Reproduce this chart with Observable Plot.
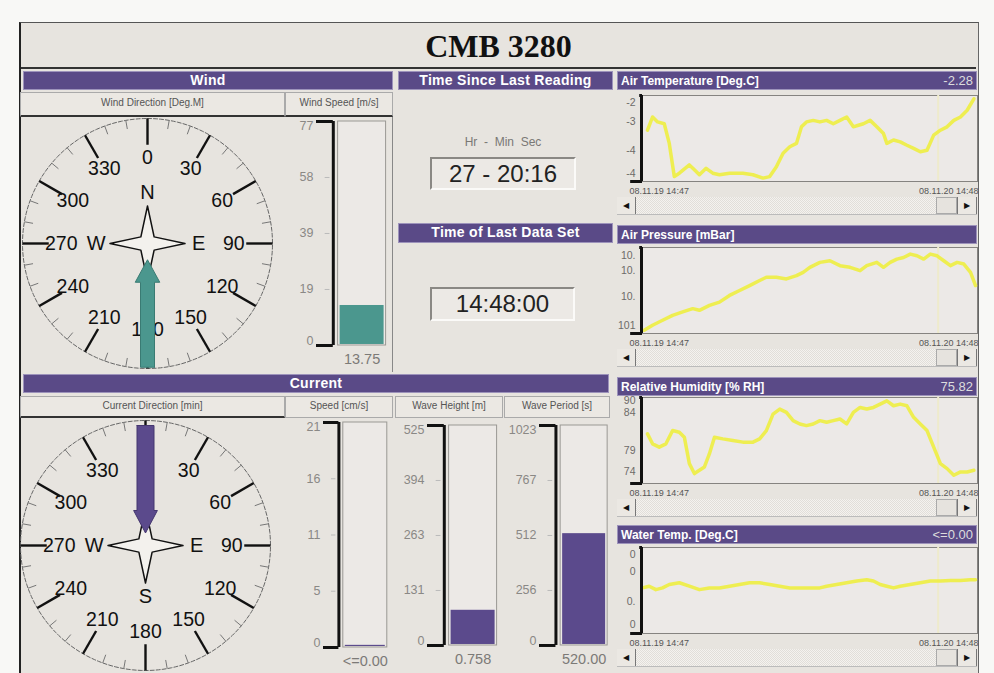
<!DOCTYPE html>
<html><head><meta charset="utf-8">
<script src="https://cdn.jsdelivr.net/npm/d3@7"></script>
<script src="https://cdn.jsdelivr.net/npm/@observablehq/plot@0.6"></script>
<style>
body{margin:0;background:#f8f8f6;font-family:"Liberation Sans",Arial,sans-serif;}
#root{position:relative;width:994px;height:673px;overflow:hidden;background:#f8f8f6;}
#root > *{position:absolute;}
.frame{left:19px;top:22px;width:957px;height:660px;background:#e7e4df;border-left:2px solid #222;border-top:1px solid #555;border-right:1px solid #666;}
.title{left:21px;top:23px;width:955px;height:44px;border-bottom:2px solid #333;text-align:center;font-family:"Liberation Serif","Times New Roman",serif;font-weight:bold;font-size:32px;line-height:46px;color:#111;}
.hdr{background:#5a4a87;color:#fff;font-weight:bold;font-size:14px;text-align:center;line-height:17px;border:1px solid #9d93bb;box-sizing:border-box;letter-spacing:0.3px;}
.sub{font-size:10px;color:#555;text-align:center;border:1px solid #aaa;background:#ebe8e3;box-sizing:border-box;line-height:20px;}
.tbox{background:#ece9e5;border-top:2px solid #8a8884;border-left:2px solid #8a8884;border-bottom:2px solid #fbfaf8;border-right:2px solid #fbfaf8;box-sizing:border-box;font-size:24px;color:#222;text-align:center;}
.thdr{background:#5a4a87;color:#fff;border:1px solid #9d93bb;box-sizing:border-box;height:19px;display:flex;justify-content:space-between;align-items:center;padding:0 3px;}
.thdr b{font-size:12px;}
.thdr span{font-size:13px;color:#ddd;}
.sb{width:360px;height:18px;background:repeating-conic-gradient(#f4f2ef 0 25%,#e1ded9 0 50%) 0 0/2px 2px;border-bottom:1px solid #bbb;box-sizing:border-box;}
.sb div{position:absolute;top:0;height:17px;box-sizing:border-box;font-size:8px;text-align:center;line-height:17px;color:#111;}
.sbl{left:0;width:19px;border-right:1px solid #777;background:#ebe8e3;}
.sbt{right:20px;width:21px;background:#e6e3de;border:1px solid #aaa;}
.sbr{right:0;width:20px;border-left:1px solid #777;border-right:1px solid #777;background:#ebe8e3;}
.vline{background:#888;width:1px;}
</style></head>
<body><div id="root"></div>
<script>
// ---------- data ----------
const stationName = "CMB 3280";
const windDirection = 180;      // arrow sits at 180 deg, pointing to centre
const currentDirection = 0;     // arrow sits at 0 deg, pointing to centre
const compassLabels = [0, 30, 60, 90, 120, 150, 180, 210, 240, 270, 300, 330];
const roseLetters = ["N", "E", "S", "W"];
const roseAngles = [0, 90, 180, 270];

const barTitles = ["Wind Speed [m/s]", "Speed [cm/s]", "Wave Height [m]", "Wave Period [s]"];
const barMax = [77, 21, 525, 1023];
const barTickLabels = [["0", "19", "39", "58", "77"], ["0", "5", "11", "16", "21"], ["0", "131", "263", "394", "525"], ["0", "256", "512", "767", "1023"]];
const barValues = [13.75, 0.2, 84, 520];
const barValueLabels = ["13.75", "<=0.00", "0.758", "520.00"];

const timeSinceLabel = "Hr  -  Min  Sec";
const timeSince = "27 - 20:16";
const lastDataTime = "14:48:00";

const trendTitles = ["Air Temperature [Deg.C]", "Air Pressure [mBar]", "Relative Humidity [% RH]", "Water Temp. [Deg.C]"];
const trendReadouts = ["-2.28", "", "75.82", "<=0.00"];
const dateStart = "08.11.19 14:47", dateEnd = "08.11.20 14:48";
const spanHours = 24.02;

const airTempHours = [0.36,0.72,1.08,1.56,1.92,2.28,2.64,3.36,3.72,4.08,4.56,5.04,5.52,6.24,7.2,7.92,8.64,9.12,9.6,10.08,10.56,11.04,11.4,11.76,12.24,12.72,13.2,13.68,14.16,14.64,15.12,15.48,15.84,16.32,16.8,17.28,17.52,18.0,18.48,18.96,19.44,19.92,20.4,20.88,21.36,21.84,22.32,22.8,23.28,23.76];
const airTempValues = [-3.13,-2.70,-2.86,-2.92,-3.56,-4.64,-4.53,-4.26,-4.42,-4.58,-4.37,-4.53,-4.58,-4.53,-4.53,-4.58,-4.69,-4.64,-4.32,-3.88,-3.67,-3.56,-3.02,-2.86,-2.81,-2.86,-2.81,-2.92,-2.81,-2.70,-3.02,-2.97,-2.92,-2.81,-3.02,-3.24,-3.56,-3.45,-3.51,-3.62,-3.72,-3.83,-3.78,-3.29,-3.13,-3.02,-2.81,-2.70,-2.48,-2.11];

const pressureHours = [0.12,0.72,1.44,2.16,2.88,3.6,4.08,4.8,5.52,6.24,6.96,7.68,8.4,8.88,9.6,10.32,11.04,11.52,12.0,12.72,13.44,14.16,14.88,15.6,16.08,16.8,17.28,17.76,18.24,18.72,19.2,19.68,20.16,20.64,21.12,21.6,22.08,22.56,23.04,23.52,23.88];
const pressureValues = [1010.94,1011.61,1012.27,1012.93,1013.38,1013.82,1013.60,1014.26,1014.70,1015.59,1016.25,1016.91,1017.58,1018.02,1018.02,1017.80,1018.24,1018.68,1019.35,1020.01,1020.23,1019.57,1019.35,1018.90,1019.57,1020.01,1019.35,1020.01,1020.45,1020.67,1021.12,1020.89,1020.45,1021.12,1020.89,1020.23,1019.57,1020.01,1019.79,1018.68,1016.91];

const humidityHours = [0.36,0.72,1.2,1.68,2.16,2.64,3.0,3.36,3.72,4.08,4.44,4.8,5.16,5.76,6.48,7.2,7.92,8.4,8.88,9.36,9.84,10.32,10.8,11.28,11.76,12.24,12.72,13.2,13.68,14.16,14.64,15.12,15.6,16.08,16.56,17.04,17.52,18.0,18.48,18.96,19.44,19.92,20.4,20.88,21.36,21.84,22.32,22.8,23.28,23.76];
const humidityValues = [83.54,81.23,80.46,81.23,84.31,83.92,82.77,76.62,74.31,75.08,75.85,78.92,82.77,82.38,82.0,81.62,81.62,82.38,84.31,88.15,89.31,88.54,86.62,85.85,85.46,85.85,86.62,86.23,86.62,87.0,85.85,88.54,89.69,89.31,89.69,90.46,91.23,90.08,90.46,90.08,87.38,85.85,84.31,80.46,76.62,75.46,73.92,74.69,74.69,75.08];

const waterHours = [0.0,0.48,0.96,1.44,1.92,2.64,3.36,4.08,4.8,5.52,6.24,6.96,7.68,8.4,9.12,9.84,10.56,11.28,12.0,12.72,13.2,13.92,14.64,15.36,16.08,16.56,17.04,17.52,18.0,18.48,19.2,19.92,20.64,21.36,22.08,22.8,23.52,23.88];
const waterValues = [0.06,0.10,0.02,0.06,0.14,0.18,0.10,0.02,0.06,0.06,0.10,0.14,0.18,0.18,0.14,0.10,0.06,0.06,0.06,0.06,0.10,0.14,0.18,0.22,0.25,0.22,0.14,0.10,0.06,0.10,0.14,0.18,0.22,0.22,0.23,0.23,0.25,0.25];

const trendHours = [airTempHours, pressureHours, humidityHours, waterHours];
const trendValues = [airTempValues, pressureValues, humidityValues, waterValues];
const trendDomains = [[-4.8, -2.0], [1010.5, 1022], [72, 92], [-1, 1]];
const trendTickValues = [[-2.22, -2.86, -3.78, -4.53], [1020.9, 1018.9, 1015.4, 1011.6], [91.2, 88.5, 79.7, 74.7], [0.84, 0.45, -0.25, -0.8]];
const trendTickLabels = [["-2", "-3", "-4", "-4"], ["10.", "10.", "10.", "101"], ["90", "84", "79", "74"], ["0", "0", "0.", "0"]];
const cursorHour = 21.2;

// ---------- layout helpers ----------
const root = document.getElementById("root");
function put(node, left, top) { node.style.left = left + "px"; node.style.top = top + "px"; root.appendChild(node); return node; }
function div(cls, html, left, top, w, h, extra) {
  const d = document.createElement("div");
  d.className = cls; if (html != null) d.innerHTML = html;
  if (w != null) d.style.width = w + "px";
  if (h != null) d.style.height = h + "px";
  if (extra) Object.assign(d.style, extra);
  return put(d, left, top);
}
const FONT = '"Liberation Sans", Arial, sans-serif';
const baseStyle = {background: "transparent", overflow: "visible", fontFamily: FONT};

// ---------- compass ----------
const rad = a => a * Math.PI / 180;
const px = (r, a) => r * Math.sin(rad(a));
const py = (r, a) => r * Math.cos(rad(a));
function arrowShape(dir, d) {
  const local = [[d.tail, -d.s], [d.base, -d.s], [d.base, -d.h], [d.tip, 0], [d.base, d.h], [d.base, d.s], [d.tail, d.s], [d.tail, -d.s]];
  return local.map(([r, w]) => ({x: r * Math.sin(rad(dir)) + w * Math.cos(rad(dir)), y: r * Math.cos(rad(dir)) - w * Math.sin(rad(dir))}));
}
function compass(dir, fill, stroke, dims) {
  const circle = d3.range(0, 361, 2);
  const minor = d3.range(0, 360, 10).filter(a => a % 30);
  const star = d3.range(0, 361, 45).map((a, i) => ({a, r: i % 2 ? 0.075 : 0.3}));
  return Plot.plot({
    width: 270, height: 270, margin: 0,
    x: {domain: [-1.08, 1.08], axis: null}, y: {domain: [-1.08, 1.08], axis: null},
    style: baseStyle,
    marks: [
      Plot.line(circle, {x: a => px(1, a), y: a => py(1, a), stroke: "#666", strokeWidth: 1, strokeDasharray: "4,2"}),
      Plot.link(minor, {x1: a => px(0.93, a), y1: a => py(0.93, a), x2: a => px(1, a), y2: a => py(1, a), stroke: "#777", strokeWidth: 1}),
      Plot.link(compassLabels, {x1: a => px(0.79, a), y1: a => py(0.79, a), x2: a => px(1, a), y2: a => py(1, a), stroke: "#111", strokeWidth: 2.4}),
      Plot.text(compassLabels, {x: a => px(0.69, a), y: a => py(0.69, a), text: a => String(a), fontSize: 19.5, fill: "#111"}),
      Plot.line(star, {x: d => px(d.r, d.a), y: d => py(d.r, d.a), fill: "#f3f1ed", stroke: "#111", strokeWidth: 1.5}),
      Plot.text(roseLetters, {x: (d, i) => px(0.41, roseAngles[i]), y: (d, i) => py(0.41, roseAngles[i]), text: d => d, fontSize: 20, fill: "#111"}),
      Plot.line(arrowShape(dir, dims), {x: "x", y: "y", fill, stroke, strokeWidth: 1, strokeLinejoin: "miter"})
    ]
  });
}

// ---------- bar gauge ----------
function gauge(i, boxLeft, boxTop, boxW, boxH, color) {
  const max = barMax[i];
  const ticks = [0, 0.25, 0.5, 0.75, 1].map(k => k * max);
  const labels = barTickLabels[i];
  const ML = 34, MT = 2, MB = 24, MR = 2;
  const width = ML + 1.45 * boxW + MR;
  const txt = (idx, anchor) => Plot.text(idx.map(j => ticks[j]), {x: -0.45, y: d => d, text: (d, k) => labels[idx[k]], textAnchor: "end", dx: -3, lineAnchor: anchor, fontSize: 12.5, fill: "#8a8885"});
  const svg = Plot.plot({
    width, height: MT + boxH + MB, marginLeft: ML, marginRight: MR, marginTop: MT, marginBottom: MB,
    x: {domain: [-0.45, 1], axis: null}, y: {domain: [0, max], axis: null},
    style: baseStyle,
    marks: [
      Plot.rect([max], {x1: 0, x2: 1, y1: 0, y2: d => d, fill: "#ece9e6", stroke: "#9a9894"}),
      Plot.rect([barValues[i]], {x1: 0, x2: 1, y1: 0, y2: d => d, fill: color, insetLeft: 2, insetRight: 2, insetBottom: 1}),
      Plot.link(ticks.slice(1, 4), {x1: -0.28, x2: -0.18, y1: d => d, y2: d => d, stroke: "#bbb"}),
      Plot.ruleX([-0.1], {y1: 0, y2: max, stroke: "#111", strokeWidth: 3}),
      Plot.ruleY([0, max], {x1: -0.45, x2: -0.1, stroke: "#111", strokeWidth: 3}),
      txt([4], "top"), txt([1, 2, 3], "middle"), txt([0], "bottom"),
      Plot.text([barValueLabels[i]], {x: 0.5, y: 0, dy: 14, text: d => d, fontSize: 14.5, fill: "#7c7a77"})
    ]
  });
  return put(svg, Math.round(boxLeft - 0.45 * boxW - ML), boxTop - MT);
}

// ---------- trend chart ----------
function trend(i, plotTop) {
  const dom = trendDomains[i];
  const hours = trendHours[i], vals = trendValues[i];
  const pts = hours.map((h, j) => ({h, v: vals[j]}));
  const svg = Plot.plot({
    width: 368, height: 4 + 86 + 20, marginLeft: 30, marginRight: 3, marginTop: 4, marginBottom: 20,
    x: {domain: [0, spanHours], axis: null}, y: {domain: dom, axis: null},
    style: baseStyle,
    marks: [
      Plot.frame({fill: "#ece9e7", stroke: "#858380"}),
      Plot.ruleX([cursorHour], {stroke: "#eeebcc", strokeWidth: 2}),
      Plot.line(pts, {x: "h", y: "v", stroke: "#eeee36", strokeWidth: 3.5, strokeOpacity: 0.85}),
      Plot.ruleX([0], {y1: dom[0], y2: dom[1], stroke: "#111", strokeWidth: 3, dx: -1}),
      Plot.ruleY([dom[0]], {x1: -0.85, x2: 0, stroke: "#111", strokeWidth: 3}),
      Plot.ruleY([dom[1]], {x1: -0.2, x2: 0, stroke: "#111", strokeWidth: 3}),
      Plot.text(trendTickValues[i], {x: 0, y: d => d, text: (d, j) => trendTickLabels[i][j], textAnchor: "end", dx: -7, fontSize: 10.5, fill: "#6d6b68"}),
      Plot.text([dateStart], {x: 0, y: dom[0], text: d => d, textAnchor: "start", dx: -13, dy: 10, fontSize: 9, fill: "#555"}),
      Plot.text([dateEnd], {x: spanHours, y: dom[0], text: d => d, textAnchor: "end", dx: 1, dy: 10, fontSize: 9, fill: "#555"})
    ]
  });
  return put(svg, 612, plotTop - 4);
}

// ---------- build ----------
div("frame", null, 19, 22);
div("title", stationName, 21, 23);

const wc = compass(windDirection, "#4b978e", "#3a7b73", {tail: 0.99, base: 0.31, tip: 0.13, s: 0.056, h: 0.098});
put(wc, 12, 108);
const cc = compass(currentDirection, "#5b4a8c", "#45376f", {tail: 0.96, base: 0.28, tip: 0.1, s: 0.068, h: 0.095});
put(cc, 10, 410);

gauge(0, 338, 121, 48, 224, "#4b978e");
gauge(1, 343, 422, 44, 225, "#5b4a8c");
gauge(2, 449, 425, 48, 220, "#5b4a8c");
gauge(3, 560, 425, 47, 220, "#5b4a8c");

const plotTops = [95, 247, 397, 547];
const hdrTops = [71, 225, 377, 525];
const sbTops = [197, 349, 499, 649];
plotTops.forEach((t, i) => trend(i, t));

// headers
div("hdr", "Wind", 23, 71, 370, 19);
div("sub", "Wind Direction [Deg.M]", 20, 92, 265, 25, {borderBottom: "2px solid #333"});
div("sub", barTitles[0], 285, 92, 108, 25, {borderBottom: "2px solid #333"});
div("vline", null, 392, 117, null, 255);

div("hdr", "Time Since Last Reading", 398, 71, 215, 19);
div("", timeSinceLabel, 430, 135, 146, 16, {textAlign: "center", fontSize: "12px", color: "#7a7875", whiteSpace: "pre"});
div("tbox", timeSince, 430, 157, 146, 33, {lineHeight: "29px"});
div("hdr", "Time of Last Data Set", 398, 223, 215, 20);
div("tbox", lastDataTime, 430, 287, 145, 34, {lineHeight: "30px"});

div("hdr", "Current", 23, 374, 586, 19);
div("sub", "Current Direction [min]", 20, 396, 265, 22, {lineHeight: "18px", borderBottom: "2px solid #333"});
div("sub", barTitles[1], 285, 396, 108, 22, {lineHeight: "18px"});
div("sub", barTitles[2], 395, 396, 108, 22, {lineHeight: "18px"});
div("sub", barTitles[3], 504, 396, 106, 22, {lineHeight: "18px"});

hdrTops.forEach((t, i) => {
  div("thdr", `<b>${trendTitles[i]}</b><span>${trendReadouts[i]}</span>`, 617, t, 360);
});
sbTops.forEach(t => {
  div("sb", '<div class="sbl">&#9664;</div><div class="sbt"></div><div class="sbr">&#9654;</div>', 617, t);
});
</script>
</body></html>
